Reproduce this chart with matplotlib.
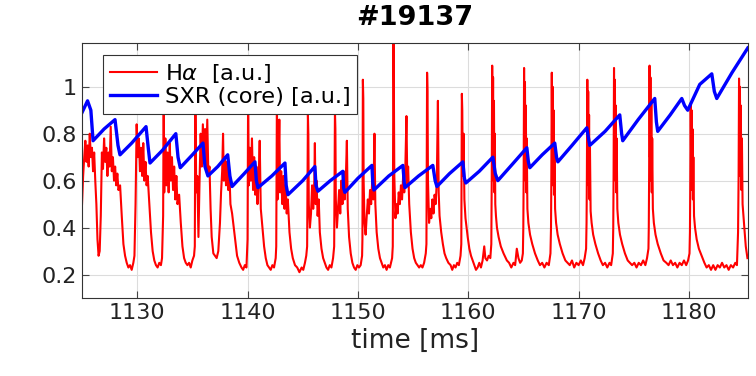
import matplotlib
matplotlib.use('Agg')
import matplotlib.pyplot as plt

# H-alpha trace, vertices (time in ms, a.u.)
ha_t = [
    # broad merged ELMs at the start
    1125.0, 1125.1, 1125.2, 1125.3, 1125.4, 1125.5, 1125.6, 1125.7, 1125.8, 1125.9,
    1126.0, 1126.1, 1126.2, 1126.3, 1126.4, 1126.5, 1126.6,
    1126.7, 1126.8, 1126.9, 1127.0, 1127.1, 1127.2, 1127.3, 1127.4, 1127.5, 1127.6,
    1127.7, 1127.8, 1127.9, 1128.0, 1128.1, 1128.2, 1128.3, 1128.45, 1128.6, 1128.75,
    1128.9, 1129.05, 1129.2, 1129.35, 1129.5, 1129.65, 1129.75,
    1129.85, 1129.95, 1130.05, 1130.15, 1130.25, 1130.35, 1130.45, 1130.55, 1130.65,
    1130.75, 1130.85, 1130.95, 1131.1, 1131.25, 1131.4, 1131.55, 1131.7, 1131.85,
    1132.0, 1132.15, 1132.25,
    1132.35, 1132.4, 1132.45, 1132.55, 1132.65, 1132.75, 1132.85, 1132.95, 1133.05,
    1133.15, 1133.25, 1133.35, 1133.45, 1133.55, 1133.65, 1133.8, 1133.95, 1134.1,
    1134.25, 1134.4, 1134.55, 1134.7, 1134.85, 1135.0, 1135.15,
    1135.22, 1135.27, 1135.35, 1135.45, 1135.55, 1135.65, 1135.75, 1135.85, 1135.95,
    1136.05, 1136.15, 1136.25, 1136.35, 1136.45, 1136.55, 1136.65, 1136.75, 1136.9,
    1137.05,
    1137.2, 1137.35, 1137.5, 1137.6, 1137.7, 1137.78, 1137.85, 1137.95, 1138.05,
    1138.15, 1138.25, 1138.35, 1138.45, 1138.6, 1138.75, 1138.9, 1139.05, 1139.25,
    1139.45, 1139.6, 1139.75, 1139.9,
    1140.0, 1140.05, 1140.12, 1140.2, 1140.3, 1140.4, 1140.5, 1140.6, 1140.7, 1140.8,
    1140.9, 1141.0, 1141.1, 1141.2, 1141.35, 1141.5, 1141.65, 1141.8, 1141.95, 1142.1,
    1142.25, 1142.4, 1142.55,
    1142.6, 1142.66, 1142.72, 1142.8, 1142.88, 1142.95, 1143.05, 1143.15, 1143.25,
    1143.35, 1143.45, 1143.55, 1143.65, 1143.8, 1143.95, 1144.1, 1144.3, 1144.5,
    1144.7, 1144.9, 1145.05, 1145.2, 1145.32,
    # double-peaked ELMs
    1145.4, 1145.47, 1145.51, 1145.55, 1145.65, 1145.75, 1145.85, 1145.95, 1146.05,
    1146.1, 1146.17, 1146.25, 1146.35, 1146.45, 1146.55, 1146.7, 1146.85, 1147.0,
    1147.15, 1147.3, 1147.45, 1147.6, 1147.75,
    1147.85, 1147.92, 1147.96, 1148.0, 1148.1, 1148.2, 1148.3, 1148.4, 1148.5, 1148.6,
    1148.7, 1148.8, 1148.9, 1149.0, 1149.08, 1149.2, 1149.35, 1149.5, 1149.65, 1149.8,
    1149.95, 1150.1, 1150.25, 1150.38,
    1150.41, 1150.45, 1150.49, 1150.52, 1150.6, 1150.7, 1150.8, 1150.9, 1151.0, 1151.1,
    1151.2, 1151.3, 1151.4, 1151.5, 1151.58, 1151.7, 1151.85, 1152.0, 1152.15, 1152.3,
    1152.45, 1152.6, 1152.75, 1152.9, 1153.1,
    1153.16, 1153.22, 1153.26, 1153.3, 1153.4, 1153.5, 1153.6, 1153.7, 1153.8, 1153.9,
    1154.0, 1154.1, 1154.2, 1154.3, 1154.4, 1154.48, 1154.55, 1154.65, 1154.8, 1154.95,
    1155.1, 1155.25, 1155.4, 1155.55, 1155.7, 1155.85, 1156.0, 1156.15,
    1156.21, 1156.27, 1156.31, 1156.35, 1156.45, 1156.55, 1156.65, 1156.75, 1156.85,
    1156.95, 1157.05, 1157.15, 1157.25, 1157.32, 1157.4, 1157.55, 1157.7, 1157.85,
    1158.0, 1158.2, 1158.4, 1158.55, 1158.7, 1158.85, 1159.0, 1159.15, 1159.3,
    1159.37, 1159.42, 1159.46, 1159.5, 1159.58, 1159.65, 1159.75, 1159.85, 1159.95,
    1160.1, 1160.25, 1160.4, 1160.55, 1160.7, 1160.85, 1161.0, 1161.15, 1161.3,
    1161.45, 1161.55, 1161.7, 1161.85, 1162.0,
    # isolated type-I ELMs
    1162.09, 1162.13, 1162.17, 1162.21, 1162.25, 1162.29, 1162.33, 1162.37, 1162.41,
    1162.45, 1162.51, 1162.6, 1162.75, 1162.95, 1163.2, 1163.5, 1163.7, 1163.9,
    1164.1, 1164.25, 1164.4, 1164.55, 1164.7, 1164.85, 1164.95,
    1164.99, 1165.02, 1165.06, 1165.1, 1165.14, 1165.18, 1165.22, 1165.26, 1165.3,
    1165.36, 1165.45, 1165.6, 1165.8, 1166.05, 1166.3, 1166.5, 1166.7, 1166.9,
    1167.1, 1167.3, 1167.45,
    1167.5, 1167.53, 1167.57, 1167.61, 1167.65, 1167.69, 1167.73, 1167.77, 1167.81,
    1167.87, 1167.96, 1168.1, 1168.3, 1168.55, 1168.8, 1169.0, 1169.2, 1169.4,
    1169.6, 1169.8, 1170.0, 1170.2, 1170.4, 1170.55, 1170.68,
    1170.72, 1170.75, 1170.79, 1170.83, 1170.87, 1170.91, 1170.95, 1170.99, 1171.03,
    1171.09, 1171.18, 1171.32, 1171.52, 1171.77, 1172.0, 1172.2, 1172.4, 1172.6,
    1172.8, 1172.95, 1173.1,
    1173.14, 1173.17, 1173.21, 1173.25, 1173.29, 1173.33, 1173.37, 1173.41, 1173.45,
    1173.51, 1173.6, 1173.75, 1173.95, 1174.2, 1174.45, 1174.65, 1174.85, 1175.05,
    1175.25, 1175.45, 1175.65, 1175.85, 1176.05, 1176.2, 1176.33,
    1176.36, 1176.39, 1176.43, 1176.47, 1176.51, 1176.55, 1176.59, 1176.63, 1176.67,
    1176.73, 1176.82, 1176.97, 1177.17, 1177.45, 1177.7, 1177.95, 1178.15, 1178.35,
    1178.55, 1178.75, 1178.95, 1179.15, 1179.35, 1179.55, 1179.75, 1179.92, 1180.05,
    1180.09, 1180.12, 1180.16, 1180.2, 1180.24, 1180.28, 1180.32, 1180.36, 1180.4,
    1180.46, 1180.55, 1180.7, 1180.9, 1181.15, 1181.4, 1181.6, 1181.8, 1182.0,
    1182.2, 1182.4, 1182.6, 1182.8, 1183.0, 1183.2, 1183.4, 1183.6, 1183.8, 1184.0,
    1184.2, 1184.35, 1184.45,
    1184.5, 1184.54, 1184.58, 1184.62, 1184.66, 1184.7, 1184.75, 1184.8, 1184.86,
    1184.95, 1185.05, 1185.15, 1185.3,
]
ha_v = [
    0.50, 0.62, 0.70, 0.77, 0.68, 0.75, 0.66, 0.80, 0.70, 0.74,
    0.64, 0.72, 0.60, 0.50, 0.35, 0.28, 0.30,
    0.45, 0.72, 0.65, 0.78, 0.68, 0.74, 0.62, 0.72, 0.66, 0.83,
    0.64, 0.70, 0.60, 0.66, 0.58, 0.63, 0.56, 0.58, 0.45, 0.33,
    0.28, 0.25, 0.23, 0.24, 0.22, 0.25, 0.28,
    0.50, 0.84, 0.70, 0.78, 0.64, 0.74, 0.62, 0.76, 0.60,
    0.68, 0.58, 0.62, 0.50, 0.38, 0.30, 0.26, 0.24, 0.23,
    0.25, 0.24, 0.27,
    0.45, 0.98, 0.55, 0.78, 0.58, 0.72, 0.55, 0.76, 0.60,
    0.70, 0.56, 0.66, 0.52, 0.62, 0.50, 0.54, 0.42, 0.32,
    0.27, 0.25, 0.24, 0.25, 0.23, 0.26, 0.28,
    0.32, 0.97, 0.55, 0.62, 0.36, 0.60, 0.80, 0.66, 0.84,
    0.68, 0.82, 0.64, 0.86, 0.62, 0.66, 0.48, 0.36, 0.29,
    0.28,
    0.27, 0.30, 0.42, 0.55, 0.64, 0.80, 0.60, 0.70, 0.58,
    0.68, 0.56, 0.64, 0.50, 0.46, 0.40, 0.34, 0.28, 0.25,
    0.23, 0.22, 0.24, 0.23,
    0.35, 0.96, 0.58, 0.74, 0.60, 0.78, 0.56, 0.70, 0.54, 0.66,
    0.50, 0.60, 0.77, 0.48, 0.40, 0.32, 0.27, 0.24, 0.23, 0.22,
    0.24, 0.23, 0.27,
    0.32, 0.95, 0.52, 0.66, 0.86, 0.55, 0.64, 0.50, 0.62,
    0.48, 0.58, 0.46, 0.52, 0.38, 0.31, 0.27, 0.24, 0.23,
    0.21, 0.23, 0.22, 0.25, 0.28,
    0.32, 0.88, 0.80, 0.50, 0.40, 0.46, 0.58, 0.48, 0.60,
    0.76, 0.50, 0.60, 0.45, 0.52, 0.38, 0.31, 0.27, 0.25,
    0.23, 0.22, 0.24, 0.23, 0.27,
    0.32, 0.90, 0.82, 0.52, 0.40, 0.48, 0.56, 0.46, 0.60, 0.50,
    0.64, 0.52, 0.60, 0.77, 0.48, 0.36, 0.29, 0.25, 0.23, 0.22,
    0.24, 0.23, 0.24, 0.28,
    0.35, 1.03, 0.95, 0.60, 0.42, 0.37, 0.45, 0.52, 0.46, 0.56,
    0.50, 0.60, 0.52, 0.80, 0.50, 0.38, 0.31, 0.27, 0.25, 0.23,
    0.24, 0.22, 0.24, 0.23, 0.27,
    0.32, 1.20, 1.00, 0.62, 0.44, 0.50, 0.46, 0.55, 0.50, 0.58,
    0.52, 0.62, 0.55, 0.66, 0.875, 0.58, 0.66, 0.50, 0.38, 0.31,
    0.27, 0.25, 0.24, 0.23, 0.24, 0.23, 0.25, 0.29,
    0.33, 1.06, 0.98, 0.60, 0.42, 0.48, 0.44, 0.52, 0.46,
    0.54, 0.50, 0.60, 0.94, 0.55, 0.45, 0.38, 0.33, 0.29,
    0.27, 0.25, 0.24, 0.22, 0.24, 0.23, 0.25, 0.24, 0.28,
    0.33, 0.97, 0.90, 0.62, 0.80, 0.52, 0.44, 0.40, 0.36,
    0.31, 0.28, 0.26, 0.24, 0.22, 0.23, 0.25, 0.23, 0.26,
    0.32, 0.27, 0.26, 0.28, 0.27,
    0.33, 0.62, 1.09, 0.70, 1.04, 0.60, 0.94, 0.55, 0.80,
    0.50, 0.45, 0.40, 0.36, 0.32, 0.29, 0.26, 0.25, 0.23,
    0.25, 0.24, 0.31, 0.27, 0.25, 0.26, 0.29,
    0.40, 0.62, 1.08, 0.70, 1.02, 0.60, 0.92, 0.55, 0.78,
    0.48, 0.42, 0.37, 0.33, 0.29, 0.26, 0.24, 0.25, 0.23,
    0.25, 0.24, 0.29,
    0.40, 0.62, 1.06, 0.70, 1.00, 0.58, 0.90, 0.54, 0.76,
    0.48, 0.42, 0.37, 0.33, 0.29, 0.26, 0.25, 0.24, 0.26,
    0.23, 0.25, 0.24, 0.26, 0.24, 0.27, 0.31,
    0.42, 0.62, 1.03, 0.68, 0.98, 0.58, 0.88, 0.52, 0.74,
    0.47, 0.42, 0.37, 0.33, 0.29, 0.26, 0.24, 0.25, 0.23,
    0.25, 0.24, 0.29,
    0.40, 0.62, 1.08, 0.70, 1.03, 0.60, 0.92, 0.55, 0.78,
    0.48, 0.42, 0.37, 0.33, 0.29, 0.26, 0.25, 0.24, 0.25,
    0.23, 0.25, 0.24, 0.26, 0.24, 0.27, 0.31,
    0.40, 0.62, 1.09, 0.70, 1.04, 0.60, 0.93, 0.55, 0.78,
    0.48, 0.42, 0.37, 0.33, 0.29, 0.26, 0.25, 0.24, 0.26,
    0.24, 0.25, 0.23, 0.25, 0.24, 0.26, 0.24, 0.26, 0.29,
    0.38, 0.58, 0.93, 0.66, 0.90, 0.56, 0.82, 0.52, 0.70,
    0.45, 0.40, 0.35, 0.31, 0.28, 0.25, 0.23, 0.24, 0.22,
    0.24, 0.22, 0.24, 0.23, 0.25, 0.23, 0.24, 0.22, 0.24, 0.23,
    0.25, 0.24, 0.38,
    0.62, 1.035, 0.70, 1.00, 0.62, 0.92, 0.56, 0.78, 0.50,
    0.44, 0.38, 0.32, 0.27,
]

# core soft X-ray, sawtooth vertices
sxr_t = [
    1125.0, 1125.5, 1125.8, 1126.0, 1126.4, 1127.0, 1127.99, 1128.26, 1128.44,
    1129.5, 1130.8, 1131.0, 1131.16, 1132.3, 1133.5, 1133.7, 1133.9,
    1135.0, 1135.96, 1136.14, 1136.41, 1137.3, 1138.2, 1138.4, 1138.6,
    1139.7, 1140.67, 1140.8, 1140.94, 1142.2, 1143.39, 1143.5, 1143.66,
    1145.0, 1146.1, 1146.2, 1146.38, 1147.5, 1148.64, 1148.7, 1148.82,
    1150.0, 1151.27, 1151.35, 1151.45, 1152.8, 1154.08, 1154.2, 1154.26,
    1155.5, 1156.79, 1157.0, 1157.16, 1158.3, 1159.51, 1159.65, 1159.78,
    1161.0, 1162.23, 1162.45, 1162.68, 1164.0, 1165.31, 1165.45, 1165.58,
    1166.7, 1167.84, 1168.0, 1168.12, 1169.4, 1170.74, 1170.9, 1171.01,
    1172.4, 1173.73, 1173.9, 1174.0, 1175.4, 1176.9, 1177.05, 1177.17,
    1178.3, 1179.35, 1179.6, 1179.89, 1180.98, 1182.07, 1182.3, 1182.52,
    1183.9, 1185.33,
]
sxr_v = [
    0.89, 0.94, 0.90, 0.77, 0.79, 0.82, 0.86, 0.75, 0.71,
    0.76, 0.83, 0.74, 0.675, 0.73, 0.80, 0.70, 0.655,
    0.71, 0.76, 0.66, 0.62, 0.66, 0.71, 0.62, 0.575,
    0.63, 0.68, 0.60, 0.57, 0.62, 0.675, 0.58, 0.54,
    0.60, 0.66, 0.58, 0.555, 0.60, 0.64, 0.57, 0.55,
    0.61, 0.665, 0.59, 0.56, 0.62, 0.665, 0.59, 0.57,
    0.62, 0.665, 0.60, 0.575, 0.63, 0.68, 0.61, 0.59,
    0.64, 0.70, 0.63, 0.60, 0.67, 0.74, 0.68, 0.655,
    0.71, 0.76, 0.70, 0.68, 0.75, 0.825, 0.78, 0.75,
    0.81, 0.88, 0.80, 0.77, 0.86, 0.95, 0.85, 0.81,
    0.88, 0.95, 0.92, 0.90, 1.01, 1.055, 0.98, 0.95,
    1.06, 1.165,
]

xticks = [1130, 1140, 1150, 1160, 1170, 1180]
yticks = [0.2, 0.4, 0.6, 0.8, 1.0]
ylabels = ['0.2', '0.4', '0.6', '0.8', '1']

fig = plt.figure(figsize=(7.56, 3.76), dpi=100)
ax = fig.add_axes([0.1085, 0.2074, 0.8809, 0.6774])

ax.plot(ha_t, ha_v, color='#ff0000', lw=1.5, label=r'H$\alpha$  [a.u.]')
ax.plot(sxr_t, sxr_v, color='#0000ff', lw=2.4, label='SXR (core) [a.u.]')

ax.set_xlim(1125, 1185.35)
ax.set_ylim(0.10, 1.185)
ax.set_xticks(xticks)
ax.set_yticks(yticks)
ax.set_yticklabels(ylabels)
ax.grid(True, color='#dcdcdc', lw=0.8)
ax.set_axisbelow(True)
ax.tick_params(direction='in', top=True, right=True, length=5, width=0.8,
               labelsize=16, labelcolor='#222222', color='#444444')
for s in ax.spines.values():
    s.set_color('#333333')
    s.set_linewidth(0.8)

ax.set_xlabel('time [ms]', fontsize=19, color='#222222')
ax.set_title('#19137', fontsize=19.5, fontweight='bold', pad=13)

leg = ax.legend(loc='upper left', bbox_to_anchor=(0.0315, 0.954), borderaxespad=0,
                fontsize=16.2, handlelength=2.1, handletextpad=0.35, borderpad=0.3,
                labelspacing=0.1, fancybox=False, framealpha=1, edgecolor='#333333')
leg.get_frame().set_linewidth(0.8)

fig.savefig('out.png', dpi=100)
